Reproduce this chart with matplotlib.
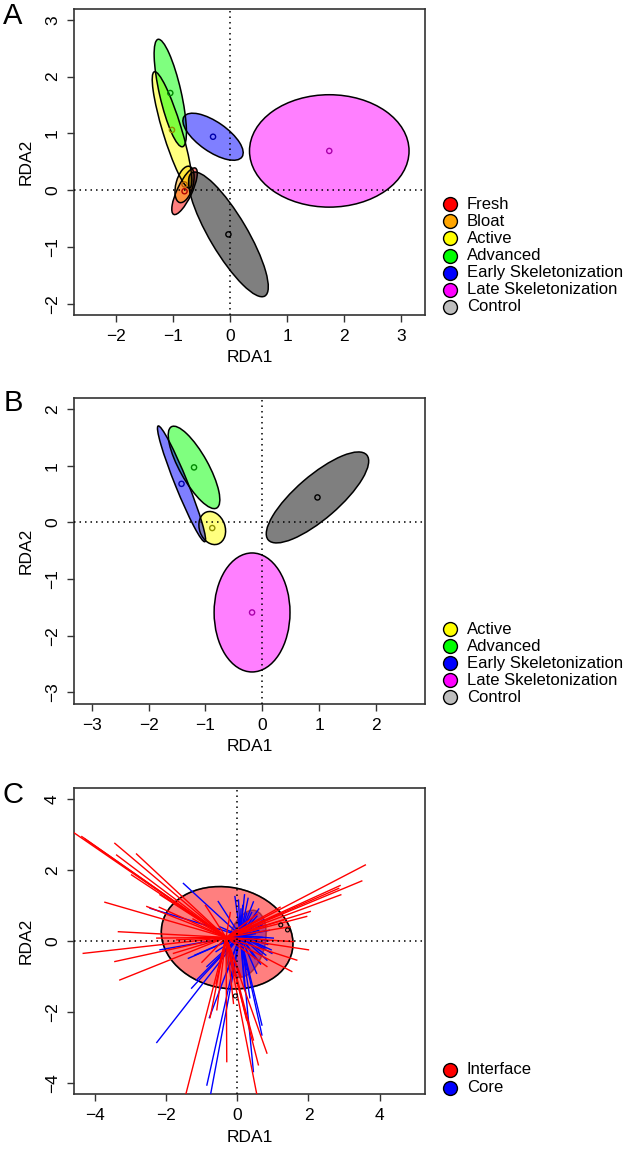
import matplotlib
matplotlib.use('Agg')
import matplotlib.pyplot as plt
from matplotlib.patches import Ellipse
from matplotlib.lines import Line2D

plt.rcParams['font.family'] = ['Liberation Sans', 'DejaVu Sans']

# ---------------- Panel A data ----------------
a_groups = ['Fresh', 'Bloat', 'Active', 'Advanced', 'Early Skeletonization',
            'Late Skeletonization', 'Control']
a_fill = ['#FF0000', '#FFA500', '#FFFF00', '#00FF00', '#0000FF', '#FF00FF', '#000000']
a_legend = ['#FF0000', '#FFA500', '#FFFF00', '#00FF00', '#0000FF', '#FF00FF', '#BEBEBE']
a_dot = ['#B00000', '#B06000', '#909000', '#008800', '#0000AA', '#AA00AA', '#000000']
a_cx = [-0.80, -0.80, -1.02, -1.05, -0.30, 1.74, -0.03]
a_cy = [-0.02, 0.10, 1.06, 1.71, 0.94, 0.69, -0.78]
a_major = [0.45, 0.33, 1.07, 0.97, 0.62, 1.40, 1.26]
a_minor = [0.13, 0.15, 0.165, 0.19, 0.26, 0.99, 0.33]
a_angle = [65, 75, 106.8, 102.8, -35, 0, -59.5]
a_xticks = [-2, -1, 0, 1, 2, 3]
a_yticks = [-2, -1, 0, 1, 2, 3]

# ---------------- Panel B data ----------------
b_groups = ['Active', 'Advanced', 'Early Skeletonization', 'Late Skeletonization', 'Control']
b_fill = ['#FFFF00', '#00FF00', '#0000FF', '#FF00FF', '#000000']
b_legend = ['#FFFF00', '#00FF00', '#0000FF', '#FF00FF', '#BEBEBE']
b_dot = ['#909000', '#008800', '#0000AA', '#AA00AA', '#000000']
b_cx = [-0.88, -1.20, -1.42, -0.18, 0.97]
b_cy = [-0.10, 0.97, 0.68, -1.59, 0.44]
b_major = [0.30, 0.82, 1.10, 1.05, 1.145]
b_minor = [0.225, 0.25, 0.11, 0.667, 0.38]
b_angle = [110, 119, 111.9, 90, 40.9]
b_xticks = [-3, -2, -1, 0, 1, 2]
b_yticks = [-3, -2, -1, 0, 1, 2]

# ---------------- Panel C data ----------------
c_groups = ['Interface', 'Core']
c_legend = ['#FF0000', '#0000FF']
c_cx = [-0.29, 0.25]
c_cy = [0.09, -0.08]
c_major = [1.87, 0.97]
c_minor = [1.42, 0.52]
c_angle = [-12, 75]
c_spider_cx = [-0.32, 0.08]
c_spider_cy = [0.10, 0.15]
c_marks_x = [-0.06, 1.22, 1.41]
c_marks_y = [-1.55, 0.45, 0.31]
c_xticks = [-4, -2, 0, 2, 4]
c_yticks = [-4, -2, 0, 2, 4]

interface_x = [-4.75, -4.38, -4.30, -3.45, -3.40, -2.84, -2.98, -2.18, -2.55, -3.73,
               -2.20, -3.35, -4.34, -3.45, -3.31, -1.71, -2.27, -1.80, -1.55, -0.30,
               0.60, 0.83, 0.59, -0.77, -0.58, 0.26, 0.45, -0.11, 1.53, 1.67,
               2.00, 1.58, 1.48, 2.05, 3.60, 3.50, 2.89, 2.91, 1.20, 2.85,
               1.95, 1.30, 0.83, -0.90, -1.25, -0.60, 0.10, -1.00, 0.55, -0.20]
interface_y = [3.15, 2.94, 2.88, 2.75, 2.42, 2.45, 1.86, 1.30, 0.97, 1.09,
               0.95, 0.26, -0.35, -0.58, -1.10, 0.03, 0.08, -0.35, -4.70, -3.40,
               -4.60, -3.16, -3.49, -2.16, -1.94, -2.23, -2.79, -1.76, -0.86, -0.54,
               -0.25, -0.02, 0.40, 0.83, 2.14, 1.69, 1.56, 1.30, 0.95, 1.48,
               0.69, 0.59, -0.72, 1.00, 0.62, -1.20, -1.00, -0.60, 0.75, 0.80]

core_x = [-2.27, -1.52, -2.46, -2.18, -1.38, -1.29, -0.86, -0.77, -0.79, 0.45,
          0.69, 0.69, -0.54, -0.07, 0.03, 1.01, 0.97, 0.83, 0.54, 0.26,
          -0.86, -1.15, 0.40, 0.30, 0.60, 0.80, -0.50, -1.20, 0.35, 0.20,
          -0.30, 0.50, 0.10, 0.15, 0.50, 0.70, -0.60, 0.25,
          0.90, 0.85, 0.75, 0.60, 0.45, 0.95, 0.80, 0.70, 0.55, 0.30,
          0.20, 0.65, 0.88, 0.40]
core_y = [-2.86, 1.62, 0.92, -0.25, -0.49, -1.33, -4.06, -4.40, -2.16, -3.68,
          -2.37, -2.65, 1.11, 1.25, 1.15, 0.08, -0.35, -0.54, -0.91, 0.78,
          -0.72, -1.10, 0.50, 0.60, 0.30, -0.20, 0.40, -0.40, -1.60, -1.30,
          -0.90, 0.20, 0.90, 1.00, -0.50, 0.10, -0.30, -0.80,
          0.30, -0.10, 0.60, 0.90, 1.10, -0.25, -0.40, 0.45, 0.70, 1.20,
          1.30, -0.65, 0.00, 0.80]

# ---------------- figure ----------------
W, H = 626, 1149
fig = plt.figure(figsize=(W / 100, H / 100), dpi=100)

def fx(px):
    return px / W

def fy(py):
    return 1 - py / H

ax_left, ax_w, ax_h = 74, 351, 306

def make_axes(top):
    return fig.add_axes([fx(ax_left), fy(top + ax_h), ax_w / W, ax_h / H])

def style(ax, xlim, ylim, xticks, yticks):
    ax.set_xlim(*xlim)
    ax.set_ylim(*ylim)
    ax.set_xticks(xticks)
    ax.set_yticks(yticks)
    ax.tick_params(direction='out', length=5, width=1, labelsize=12.5, pad=5, color='#333333')
    for lbl in ax.get_yticklabels():
        lbl.set_rotation(90)
        lbl.set_va('center')
    for s in ax.spines.values():
        s.set_linewidth(1.2)
        s.set_color('#333333')
    ax.axhline(0, color='black', lw=1.1, ls=(0, (1, 2.6)), zorder=5)
    ax.axvline(0, color='black', lw=1.1, ls=(0, (1, 2.6)), zorder=5)
    ax.set_xlabel('RDA1', fontsize=12.5, va='center')
    ax.set_ylabel('RDA2', fontsize=12.5, va='center')
    ax.xaxis.set_label_coords(0.5, -43 / ax_h)
    ax.yaxis.set_label_coords(-48 / ax_w, 0.5)

def legend(labels, colors, ys):
    for lab, col, y in zip(labels, colors, ys):
        fig.add_artist(Line2D([fx(450)], [fy(y)], marker='o', markersize=10,
                              markerfacecolor=col, markeredgecolor='black',
                              markeredgewidth=1, linestyle='none'))
        fig.text(fx(467), fy(y), lab, fontsize=12, va='center', ha='left')

def ellipses(ax, cx, cy, major, minor, angle, fill):
    for i in range(len(cx)):
        ax.add_patch(Ellipse((cx[i], cy[i]), 2 * major[i], 2 * minor[i],
                             angle=angle[i], facecolor=fill[i], alpha=0.5,
                             edgecolor='none', zorder=2))
        ax.add_patch(Ellipse((cx[i], cy[i]), 2 * major[i], 2 * minor[i],
                             angle=angle[i], facecolor='none', edgecolor='black',
                             lw=1.1, zorder=3))

# ---- Panel A ----
axA = make_axes(9)
ellipses(axA, a_cx, a_cy, a_major, a_minor, a_angle, a_fill)
axA.scatter(a_cx, a_cy, s=14, facecolors='none', edgecolors=a_dot, linewidths=1, zorder=4)
style(axA, (-2.74, 3.42), (-2.2, 3.19), a_xticks, a_yticks)
fig.text(fx(13), fy(16), 'A', fontsize=21, ha='center', va='center')
legend(a_groups, a_legend, [204.2 + 17.1 * k for k in range(7)])

# ---- Panel B ----
axB = make_axes(397.7)
ellipses(axB, b_cx, b_cy, b_major, b_minor, b_angle, b_fill)
axB.scatter(b_cx, b_cy, s=14, facecolors='none', edgecolors=b_dot, linewidths=1, zorder=4)
style(axB, (-3.31, 2.86), (-3.2, 2.2), b_xticks, b_yticks)
fig.text(fx(13), fy(403), 'B', fontsize=21, ha='center', va='center')
legend(b_groups, b_legend, [629 + 17.1 * k for k in range(5)])

# ---- Panel C ----
axC = make_axes(788.3)
# Core drawn first, Interface on top (semi-transparent)
for i in [1, 0]:
    axC.add_patch(Ellipse((c_cx[i], c_cy[i]), 2 * c_major[i], 2 * c_minor[i],
                          angle=c_angle[i], facecolor=c_legend[i], alpha=0.5,
                          edgecolor='black', lw=1.1, zorder=2))
axC.add_patch(Ellipse((c_cx[0], c_cy[0]), 2 * c_major[0], 2 * c_minor[0],
                      angle=c_angle[0], facecolor='none', edgecolor='black',
                      lw=1.1, zorder=2.5))
for x, y in zip(core_x, core_y):
    axC.plot([c_spider_cx[1], x], [c_spider_cy[1], y], color='#0000FF', lw=1.0, zorder=3)
for x, y in zip(interface_x, interface_y):
    axC.plot([c_spider_cx[0], x], [c_spider_cy[0], y], color='#FF0000', lw=1.0, zorder=3.5)
axC.scatter(c_marks_x, c_marks_y, s=8, facecolors='none', edgecolors='black',
            linewidths=0.8, zorder=4)
style(axC, (-4.6, 5.28), (-4.32, 4.3), c_xticks, c_yticks)
fig.text(fx(13), fy(795), 'C', fontsize=21, ha='center', va='center')
legend(c_groups, c_legend, [1070, 1087.5])

fig.savefig('out.png', dpi=100)
